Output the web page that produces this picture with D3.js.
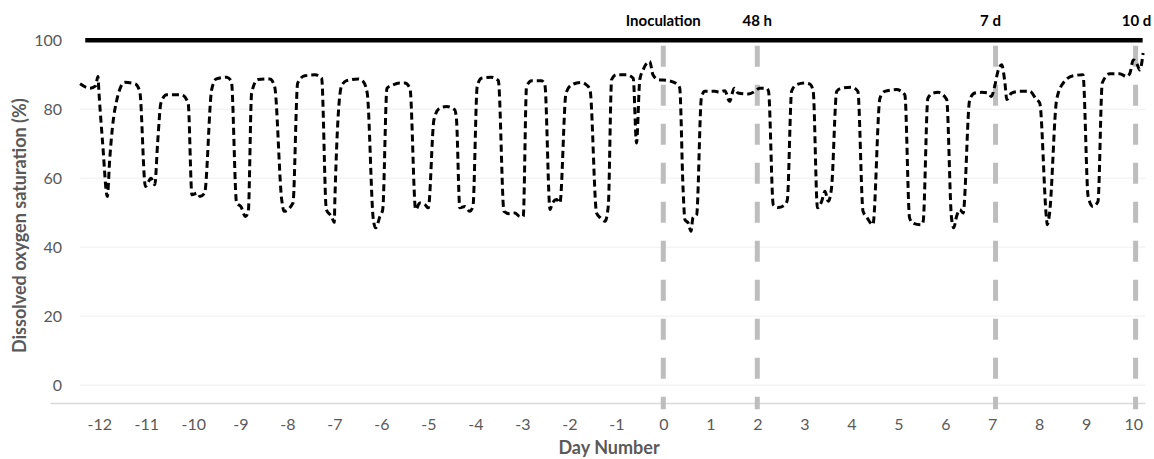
<!DOCTYPE html>
<html>
<head>
<meta charset="utf-8">
<script src="https://cdn.jsdelivr.net/npm/d3@7"></script>
<style>
  html, body { margin: 0; padding: 0; background: #fff; }
  #chart { width: 1154px; height: 459px; }
  text { font-family: Lato, "Open Sans", sans-serif; }
</style>
</head>
<body>
<div id="chart"></div>
<script>
// day number of each reading (days relative to inoculation)
const days = [
  -12.41, -12.20, -12.08, -12.03, -12.01, -11.93, -11.83, -11.78, -11.67, -11.46, -11.24, -11.14,
  -11.02, -10.90, -10.82, -10.76, -10.69, -10.57, -10.25, -10.11,
  -10.03, -9.91, -9.86, -9.76, -9.61, -9.51, -9.29, -9.19,
  -9.08, -8.99, -8.89, -8.83, -8.76, -8.63, -8.37, -8.27,
  -8.12, -8.07, -7.88, -7.78, -7.63, -7.41, -7.27,
  -7.17, -7.06, -7.00, -6.99, -6.85, -6.74, -6.49, -6.39, -6.30,
  -6.17, -6.12, -6.03, -5.97, -5.88, -5.75, -5.61, -5.50, -5.39,
  -5.27, -5.18, -5.07, -5.00, -4.88, -4.76, -4.61, -4.44, -4.40,
  -4.33, -4.22, -4.12, -4.05, -3.96, -3.87, -3.66, -3.51,
  -3.39, -3.27, -3.16, -3.05, -2.98, -2.91, -2.80, -2.59, -2.52,
  -2.41, -2.36, -2.27, -2.20, -2.07, -1.95, -1.74, -1.64, -1.56,
  -1.42, -1.34, -1.24, -1.17, -1.10, -1.00, -0.78, -0.64,
  -0.57, -0.50, -0.43, -0.29, -0.22, -0.11, 0.10, 0.31, 0.35,
  0.42, 0.46, 0.53, 0.59, 0.63, 0.71, 0.81, 0.88, 1.10, 1.20, 1.31, 1.41, 1.51, 1.59, 1.80, 1.95, 2.05, 2.20, 2.24,
  2.34, 2.44, 2.59, 2.64, 2.73, 2.83, 3.01, 3.12, 3.19,
  3.28, 3.37, 3.44, 3.51, 3.58, 3.69, 3.79, 4.00, 4.14,
  4.25, 4.32, 4.46, 4.61, 4.71, 4.96, 5.14,
  5.24, 5.31, 5.49, 5.53, 5.63, 5.74, 5.85, 6.03,
  6.13, 6.18, 6.24, 6.31, 6.38, 6.52, 6.63, 6.77, 6.91, 6.98, 7.05, 7.12, 7.20, 7.27, 7.31, 7.41, 7.59, 7.80, 7.94, 8.01,
  8.15, 8.17, 8.22, 8.37, 8.51, 8.72, 8.93,
  9.04, 9.14, 9.25, 9.34, 9.50, 9.71, 9.86, 9.93, 10.00, 10.07, 10.14, 10.21
];

// dissolved oxygen saturation (%) at each reading
const saturation = [
  87.4, 86.1, 86.8, 89.5, 85.2, 70.2, 54.7, 65.4, 79.9, 87.8, 87.4, 85.2,
  57.6, 60.0, 58.1, 70.2, 81.8, 84.2, 84.2, 81.8,
  55.2, 55.7, 54.7, 55.7, 85.7, 88.8, 89.3, 88.1,
  52.8, 51.8, 48.9, 50.4, 84.7, 88.6, 88.8, 86.6,
  53.8, 50.4, 52.8, 87.6, 89.7, 90.0, 89.0,
  50.9, 48.9, 47.2, 52.8, 86.6, 88.3, 88.8, 88.1, 84.7,
  48.0, 45.6, 48.9, 50.9, 86.1, 87.1, 87.6, 87.6, 86.1,
  50.9, 52.8, 52.3, 51.4, 77.0, 80.3, 80.8, 79.9, 76.9,
  51.4, 51.8, 50.4, 51.8, 86.6, 89.0, 89.3, 88.3,
  50.4, 49.7, 49.9, 48.9, 48.9, 86.6, 88.3, 88.3, 87.1,
  50.9, 52.8, 53.8, 52.8, 84.7, 87.1, 87.8, 87.1, 85.7,
  49.9, 48.5, 47.5, 52.0, 88.6, 90.0, 90.0, 89.0,
  70.2, 88.6, 91.4, 93.9, 90.0, 88.6, 88.3, 87.1, 86.1,
  57.2, 48.0, 47.0, 44.6, 48.5, 49.4, 83.2, 85.2, 85.2, 85.0, 85.4, 82.3, 86.1, 84.7, 84.4, 85.2, 86.1, 86.1, 85.2,
  52.3, 51.5, 52.3, 53.8, 85.2, 87.1, 87.6, 87.3, 85.2,
  51.4, 53.3, 56.2, 53.3, 57.2, 85.2, 86.1, 86.4, 85.2,
  50.4, 48.9, 46.5, 83.2, 85.2, 85.7, 84.2,
  48.5, 47.0, 46.5, 47.5, 83.2, 84.7, 84.9, 82.8,
  48.9, 45.6, 48.9, 50.9, 49.9, 82.8, 84.7, 84.9, 84.7, 83.7, 86.6, 91.0, 92.9, 87.6, 82.8, 84.7, 85.2, 85.2, 82.8, 81.8,
  48.9, 46.5, 49.9, 82.8, 87.6, 89.7, 90.0,
  54.7, 51.8, 53.3, 87.6, 90.3, 90.3, 89.5, 90.5, 94.3, 93.4, 91.4, 96.3
];

// 100 % saturation reference line
const refDays = [-12.3, 10.2];
const refValues = [100, 100];

// sampling events
const eventDays = [0, 2, 7.07, 10.05];
const eventLabels = ['Inoculation', '48 h', '7 d', '10 d'];

const xTicks = d3.range(-12, 11);
const yTicks = [0, 20, 40, 60, 80, 100];

const width = 1154;
const height = 459;

const svg = d3.select('#chart')
  .append('svg')
  .attr('width', width)
  .attr('height', height);

const x = d3.scaleLinear()
  .domain([-13.05, 10.25])
  .range([50, 1145]);

const y = d3.scaleLinear()
  .domain([-5.2, 100])
  .range([403, 40.3]);

// horizontal grid
svg.append('g')
  .selectAll('line')
  .data(yTicks.filter(d => d < 100))
  .enter()
  .append('line')
  .attr('x1', x(-12.41))
  .attr('x2', x(10.25))
  .attr('y1', d => y(d))
  .attr('y2', d => y(d))
  .attr('stroke', '#efefef')
  .attr('stroke-width', 1);

// x axis (no ticks, light base line)
const xAxis = svg.append('g')
  .attr('transform', `translate(0,${y(-5.2)})`)
  .call(d3.axisBottom(x).tickValues(xTicks).tickFormat(d => String(d)).tickSize(0).tickPadding(16));
xAxis.select('.domain').attr('stroke', '#d9d9d9').attr('stroke-width', 1.5);
xAxis.selectAll('text')
  .style('font-family', 'Lato, "Open Sans", sans-serif')
  .style('font-size', '16px')
  .style('fill', '#595959');

// y axis labels only
const yAxis = svg.append('g')
  .attr('transform', 'translate(74,0)')
  .call(d3.axisLeft(y).tickValues(yTicks).tickSize(0).tickPadding(12));
yAxis.select('.domain').remove();
yAxis.selectAll('text')
  .style('font-family', 'Lato, "Open Sans", sans-serif')
  .style('font-size', '16px')
  .style('fill', '#595959');

// event marker lines
svg.append('g')
  .selectAll('line')
  .data(eventDays)
  .enter()
  .append('line')
  .attr('x1', d => x(d))
  .attr('x2', d => x(d))
  .attr('y1', y(98.4))
  .attr('y2', y(-7))
  .attr('stroke', '#bdbdbd')
  .attr('stroke-width', 5)
  .attr('stroke-dasharray', '21,18');

const labelShift = [0, 0, -5, 1];
svg.append('g')
  .selectAll('text')
  .data(eventDays)
  .enter()
  .append('text')
  .attr('x', (d, i) => x(d) + labelShift[i])
  .attr('y', 26)
  .attr('text-anchor', 'middle')
  .style('font-size', '15px')
  .style('font-weight', 'bold')
  .style('fill', '#000')
  .text((d, i) => eventLabels[i]);

// 100 % line
svg.append('path')
  .datum(refDays.map((d, i) => [d, refValues[i]]))
  .attr('fill', 'none')
  .attr('stroke', '#000')
  .attr('stroke-width', 4.5)
  .attr('d', d3.line().x(d => x(d[0])).y(d => y(d[1])));

// dissolved oxygen trace
svg.append('path')
  .datum(days.map((d, i) => [d, saturation[i]]))
  .attr('fill', 'none')
  .attr('stroke', '#000')
  .attr('stroke-width', 3)
  .attr('stroke-dasharray', '7,4')
  .attr('d', d3.line()
    .curve(d3.curveMonotoneX)
    .x(d => x(d[0]))
    .y(d => y(d[1])));

// axis titles
svg.append('text')
  .attr('transform', `translate(26,${(y(100) + y(-5.2)) / 2 + 4}) rotate(-90)`)
  .attr('text-anchor', 'middle')
  .style('font-size', '18px')
  .style('font-weight', 'bold')
  .style('fill', '#595959')
  .text('Dissolved oxygen saturation (%)');

svg.append('text')
  .attr('x', 609)
  .attr('y', 454)
  .attr('text-anchor', 'middle')
  .style('font-size', '18px')
  .style('font-weight', 'bold')
  .style('fill', '#595959')
  .text('Day Number');
</script>
</body>
</html>
